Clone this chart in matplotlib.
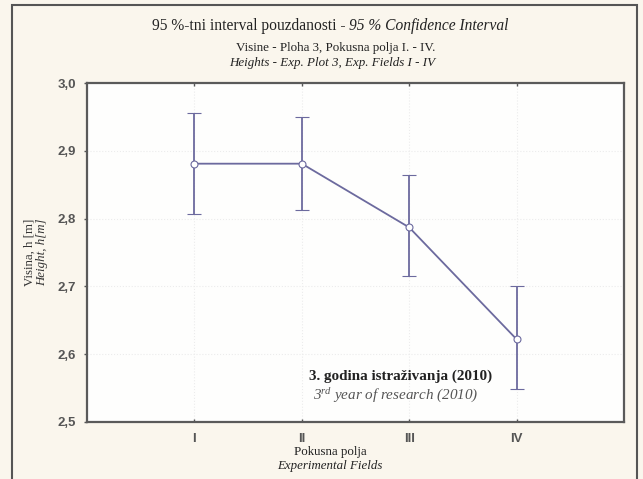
import matplotlib
matplotlib.use("Agg")
import matplotlib.pyplot as plt
import numpy as np
from matplotlib.patches import Rectangle

fields = ['I', 'II', 'III', 'IV']
means = [2.881, 2.881, 2.787, 2.622]
upper = [2.956, 2.950, 2.865, 2.700]
lower = [2.807, 2.812, 2.715, 2.549]
yticks = [2.5, 2.6, 2.7, 2.8, 2.9, 3.0]
ytick_labels = ['2,5', '2,6', '2,7', '2,8', '2,9', '3,0']

plt.rcParams['mathtext.fontset'] = 'custom'
plt.rcParams['mathtext.rm'] = 'Liberation Serif:italic'
plt.rcParams['mathtext.it'] = 'Liberation Serif:italic'

W, H = 643, 479
fig = plt.figure(figsize=(W / 100, H / 100), dpi=100)
bg = '#faf6ed'
fig.patch.set_facecolor(bg)

ax = fig.add_axes([87 / W, 1 - 422 / H, (624 - 87) / W, (422 - 83) / H])
ax.set_facecolor('#fefefd')

x = np.arange(1, len(fields) + 1)
m = np.array(means)
yerr = [m - np.array(lower), np.array(upper) - m]
col = '#6c6a9e'
ax.errorbar(x, m, yerr=yerr, color=col, lw=1.3, elinewidth=1.3, capsize=5,
            capthick=1.3, marker='o', ms=5, mfc='white', mec=col, mew=0.8, zorder=3)

ax.set_xlim(0, 5)
ax.set_ylim(2.5, 3.0)
ax.set_xticks(x)
ax.set_xticklabels(fields)
ax.set_yticks(yticks)
ax.set_yticklabels(ytick_labels)
ax.grid(True, color='#ececec', lw=0.8, ls=':')
ax.set_axisbelow(True)
for s in ax.spines.values():
    s.set_color('#5a5a5a')
    s.set_linewidth(1.6)
ax.tick_params(axis='both', length=2, width=1, color='#555555', direction='in',
               top=True, right=False, labelsize=9.5, labelcolor='#555555', pad=8)
ax.tick_params(axis='y', direction='out', pad=6)
for lab in ax.get_xticklabels() + ax.get_yticklabels():
    lab.set_family('Liberation Sans')
    lab.set_fontweight('bold')

serif = 'Liberation Serif'
# title
split_x = 349 / W
fig.text(split_x, 1 - 26 / H, '95 %-tni interval pouzdanosti - ', family=serif,
         fontsize=11.2, ha='right', va='center', color='#222222')
fig.text(split_x, 1 - 26 / H, '95 % Confidence Interval', family=serif, style='italic',
         fontsize=11.2, ha='left', va='center', color='#222222')
fig.text(336 / W, 1 - 48 / H, 'Visine - Ploha 3, Pokusna polja I. - IV.', family=serif,
         fontsize=9.4, ha='center', va='center', color='#222222')
fig.text(332 / W, 1 - 63 / H, 'Heights - Exp. Plot 3, Exp. Fields I - IV', family=serif,
         style='italic', fontsize=9.4, ha='center', va='center', color='#222222')

# y label
fig.text(30 / W, 1 - 252 / H, 'Visina, h [m]', family=serif, fontsize=9.3, rotation=90,
         ha='center', va='center', color='#333333')
fig.text(42 / W, 1 - 252 / H, 'Height, h[m]', family=serif, style='italic', fontsize=9.3,
         rotation=90, ha='center', va='center', color='#333333')

# x label
fig.text(330 / W, 1 - 452 / H, 'Pokusna polja', family=serif, fontsize=9.3,
         ha='center', va='center', color='#222222')
fig.text(330 / W, 1 - 466 / H, 'Experimental Fields', family=serif, style='italic',
         fontsize=9.3, ha='center', va='center', color='#222222')

# annotation
fig.text(309 / W, 1 - 376 / H, '3. godina istraživanja (2010)', family=serif,
         fontweight='bold', fontsize=10.9, ha='left', va='center', color='#222222')
fig.text(313 / W, 1 - 396 / H, r'$3^{rd}\ year\ of\ research\ (2010)$',
         fontsize=10.9, ha='left', va='center', color='#555555')

# outer frame
fig.patches.append(Rectangle((12 / W, -0.02), (637 - 12) / W, (479 - 5) / H + 0.02,
                             transform=fig.transFigure, fill=False, ec='#555555',
                             lw=1.5, figure=fig))

fig.savefig('out.png', dpi=100, facecolor=bg)
